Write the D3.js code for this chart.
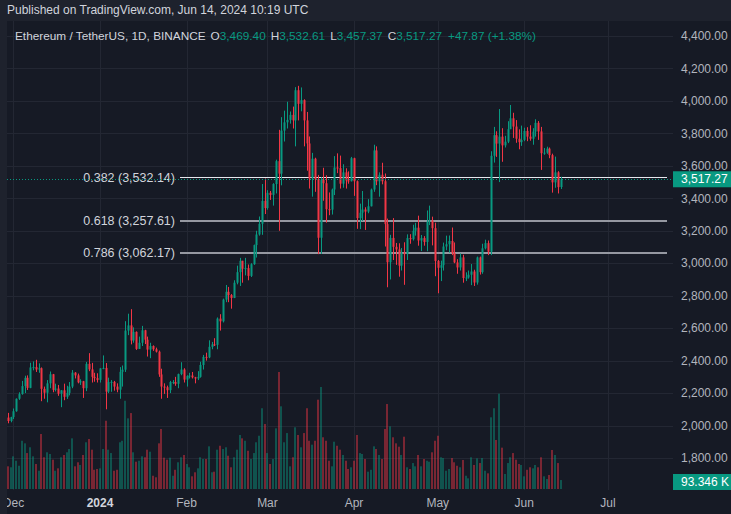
<!DOCTYPE html>
<html><head><meta charset="utf-8">
<script src="https://cdn.jsdelivr.net/npm/d3@7"></script>
<style>
html,body{margin:0;padding:0;background:#1e222d;}
svg{display:block;font-family:"Liberation Sans",Arial,sans-serif;}
</style></head>
<body><svg id="c" width="731" height="514"></svg>
<script>
// ---- data: ETH/USDT 1D, Binance, first candle 2023-11-29 ----
const startDate = "2023-11-29";
const opens = [2049,2028,2052,2088,2165,2194,2243,2294,2232,2358,2360,2345,2353,2226,2202,2260,2316,2220,2228,2196,2217,2177,2201,2240,2326,2309,2266,2273,2230,2380,2346,2300,2292,2281,2352,2355,2209,2268,2269,2240,2221,2331,2344,2585,2617,2524,2577,2472,2510,2587,2529,2468,2490,2470,2455,2315,2240,2236,2218,2268,2268,2257,2317,2345,2283,2305,2308,2297,2290,2300,2373,2423,2420,2485,2500,2497,2659,2642,2776,2824,2804,2786,2880,2945,3015,2966,2970,2922,2994,3112,3177,3243,3384,3340,3434,3421,3488,3629,3552,3817,3868,3883,3914,3880,4066,3982,4005,3880,3738,3522,3644,3518,3157,3515,3493,3333,3330,3454,3590,3586,3490,3560,3510,3505,3647,3505,3278,3311,3331,3318,3351,3454,3695,3505,3545,3505,3241,3006,3156,3101,3085,2985,3065,3056,3155,3148,3200,3219,3140,3155,3131,3256,3263,3216,3014,2972,2988,3103,3117,3137,3063,3005,2974,3036,2909,2912,2929,2949,2881,3036,2945,3092,3124,3071,3662,3789,3737,3780,3726,3749,3826,3893,3842,3767,3746,3760,3815,3780,3767,3811,3865,3812,3678,3681,3706,3666,3498,3560,3469.40];
const highs = [2078,2054,2105,2167,2205,2275,2307,2309,2387,2395,2405,2383,2358,2240,2280,2333,2318,2258,2250,2218,2258,2245,2268,2342,2329,2320,2285,2275,2392,2446,2386,2325,2322,2353,2432,2385,2295,2280,2275,2260,2360,2370,2643,2689,2717,2605,2580,2548,2614,2590,2548,2510,2494,2480,2462,2350,2260,2246,2275,2280,2300,2320,2390,2353,2310,2325,2330,2300,2335,2393,2435,2449,2525,2515,2538,2666,2686,2782,2866,2854,2810,2895,2985,3033,3015,3033,2992,3000,3115,3200,3288,3488,3523,3450,3445,3493,3638,3822,3900,3940,3995,3935,3965,4085,4093,4083,4010,3932,3781,3680,3650,3544,3530,3588,3542,3436,3460,3660,3677,3663,3610,3585,3566,3655,3650,3510,3367,3445,3345,3395,3460,3730,3720,3560,3619,3553,3275,3175,3278,3125,3123,3094,3129,3178,3179,3237,3249,3293,3174,3167,3325,3355,3287,3250,3020,3016,3127,3170,3171,3220,3128,3025,3060,3052,2944,2955,2995,2960,3041,3041,3120,3145,3140,3690,3840,3813,3950,3832,3785,3875,3975,3927,3882,3825,3848,3835,3838,3850,3832,3887,3876,3840,3710,3718,3713,3675,3657,3567,3532.61];
const lows = [2014,2020,2040,2085,2158,2190,2200,2219,2230,2340,2330,2325,2150,2165,2143,2230,2205,2210,2183,2113,2156,2164,2186,2230,2290,2260,2250,2170,2212,2335,2265,2270,2265,2265,2347,2100,2200,2208,2215,2205,2165,2240,2330,2557,2500,2510,2466,2472,2490,2502,2425,2415,2460,2450,2300,2165,2195,2170,2200,2255,2245,2230,2310,2265,2240,2290,2290,2260,2280,2295,2345,2400,2415,2470,2490,2470,2585,2635,2760,2760,2720,2785,2870,2860,2880,2925,2895,2915,2990,3035,3170,3175,3303,3330,3390,3355,3430,3200,3480,3750,3830,3860,3830,3720,3880,3936,3720,3570,3460,3410,3440,3056,3057,3385,3250,3296,3300,3420,3555,3460,3465,3460,3490,3504,3415,3212,3210,3260,3205,3308,3350,3440,3481,3410,3486,3103,2852,2900,3020,2990,2917,2955,2867,3020,3120,3140,3170,3108,3075,3108,3074,3235,3110,2920,2815,2890,2955,3080,3065,3050,3000,2935,2955,2880,2890,2905,2865,2860,2868,2930,2935,3085,3050,3050,3620,3655,3500,3625,3713,3740,3826,3772,3742,3702,3723,3752,3752,3755,3730,3780,3760,3575,3668,3674,3647,3435,3465,3430,3457.37];
const closes = [2028,2052,2088,2165,2194,2243,2294,2232,2358,2360,2345,2353,2226,2202,2260,2316,2220,2228,2196,2217,2177,2201,2240,2326,2309,2266,2273,2230,2380,2346,2300,2292,2281,2352,2355,2209,2268,2269,2240,2221,2331,2344,2585,2617,2524,2577,2472,2510,2587,2529,2468,2490,2470,2455,2315,2240,2236,2218,2268,2268.5,2257,2317,2345,2283,2305,2308,2297,2290,2300,2373,2423,2420,2485,2500,2497,2659,2642,2776,2824,2804,2786,2880,2945,3015,2966,2970,2922,2994,3112,3177,3243,3384,3340,3434,3421,3488,3629,3552,3817,3868,3883,3914,3880,4066,3982,4005,3880,3738,3522,3644,3518,3157,3515,3493,3333,3330,3454,3590,3586,3490,3560,3510,3505,3647,3505,3278,3311,3331,3318,3351,3454,3695,3505,3545,3505,3241,3006,3156,3101,3085,2985,3065,3056,3155,3148,3200,3219,3140,3155,3131,3256,3263,3216,3014,2972,2988,3103,3117,3137,3063,3005,2974,3036,2909,2912,2929,2949,2881,3036,2945,3092,3124,3071,3662,3789,3737,3780,3726,3749,3826,3893,3842,3767,3746,3760,3815,3780,3767,3811,3865,3812,3678,3681,3706,3666,3498,3560,3469,3517.27];
// volume in thousand ETH
const volumes = [236,226,340,294,242,502,475,374,434,340,260,190,572,330,382,364,305,190,215,330,354,382,416,527,236,278,250,354,486,520,409,200,208,215,416,710,409,374,190,200,486,502,918,735,790,382,284,294,340,330,409,388,138,122,475,624,326,305,326,138,200,278,330,354,260,226,132,174,215,330,312,312,444,174,180,409,450,416,434,346,226,330,409,562,527,502,398,312,374,486,554,840,676,374,260,312,631,1217,860,486,582,236,330,642,562,434,582,840,502,461,502,929,1061,538,502,294,236,492,450,409,354,294,208,226,294,562,374,364,312,180,200,444,416,354,312,624,884,652,538,475,440,354,544,226,208,270,236,354,236,312,294,284,382,502,554,330,322,190,208,322,278,242,226,302,138,111,330,250,319,270,322,190,163,746,840,510,991,430,156,270,330,374,305,260,250,132,200,226,215,250,226,330,132,104,146,406,354,270,93.346];
const priceTicks = [1800,2000,2200,2400,2600,2800,3000,3200,3400,3600,3800,4000,4200,4400];
const monthTicks = ["2023-12-01","2024-01-01","2024-02-01","2024-03-01","2024-04-01","2024-05-01","2024-06-01","2024-07-01"];
const monthLabels = ["Dec","2024","Feb","Mar","Apr","May","Jun","Jul"];
const fibLevels = ["0.382","0.618","0.786"];
const fibPrices = [3532.14,3257.61,3062.17];
const legendValues = {O:"3,469.40",H:"3,532.61",L:"3,457.37",C:"3,517.27",chg:"+47.87 (+1.38%)"};
const lastVolumeLabel = "93.346 K";

// ---- layout ----
const UP="#089981", DN="#f23645";
const paneL=7, paneT=21, paneR=673, paneB=490;
const svg=d3.select("#c");
const day=86400000;
const t0=Date.parse(startDate+"T00:00:00Z");
const data=opens.map((o,i)=>({d:new Date(t0+i*day),o,h:highs[i],l:lows[i],c:closes[i],v:volumes[i]}));

const x=d3.scaleUtc().domain([new Date("2024-01-01T00:00:00Z"),new Date("2024-07-01T00:00:00Z")]).range([100,608]);
const y=d3.scaleLinear().domain([1800,4400]).range([458,36]);
const vy=d3.scaleLinear().domain([0,d3.max(volumes)]).range([489,372]);

svg.append("rect").attr("width",731).attr("height",514).attr("fill","#1e222d");
svg.append("rect").attr("x",paneL).attr("y",paneT).attr("width",731-paneL).attr("height",514-paneT).attr("fill","#161a25");
svg.append("defs").append("clipPath").attr("id","pane").append("rect").attr("x",paneL).attr("y",paneT).attr("width",paneR-paneL).attr("height",paneB-paneT);
svg.append("defs").append("clipPath").attr("id","xax").append("rect").attr("x",paneL).attr("y",paneB).attr("width",paneR-paneL).attr("height",24);

// grid
const grid=svg.append("g").attr("clip-path","url(#pane)");
grid.selectAll("line.h").data(priceTicks).join("line").attr("x1",paneL).attr("x2",paneR)
  .attr("y1",d=>Math.round(y(d))+0.5).attr("y2",d=>Math.round(y(d))+0.5).attr("stroke","#232733").attr("stroke-width",1);
grid.selectAll("line.v").data(monthTicks).join("line")
  .attr("x1",d=>Math.round(x(new Date(d+"T00:00:00Z")))+0.5).attr("x2",d=>Math.round(x(new Date(d+"T00:00:00Z")))+0.5)
  .attr("y1",paneT).attr("y2",paneB).attr("stroke","#232733");

// volume
const vol=svg.append("g").attr("clip-path","url(#pane)");
vol.selectAll("rect").data(data).join("rect")
  .attr("x",d=>Math.round(x(d.d))-1).attr("width",2)
  .attr("y",d=>vy(d.v)).attr("height",d=>vy(0)-vy(d.v))
  .attr("fill",d=>d.c>=d.o?UP:DN).attr("fill-opacity",0.45);

// fib levels
const fib=svg.append("g");
fibPrices.forEach((p,i)=>{
  const yy=Math.round(y(p))+ (i===0?0.5:0);
  fib.append("line").attr("x1",180).attr("x2",667).attr("y1",yy).attr("y2",yy)
    .attr("stroke",i===0?"#e6e8ee":"#9598a1").attr("stroke-width",i===0?1:2);
  fib.append("text").attr("x",175).attr("y",yy).attr("dy","0.35em").attr("text-anchor","end")
    .attr("font-size",12.5).attr("fill","#d1d4dc").text(`${fibLevels[i]} (${d3.format(",.2f")(p)})`);
});

// candles
const cg=svg.append("g").attr("clip-path","url(#pane)");
const cs=cg.selectAll("g").data(data).join("g");
cs.append("line").attr("x1",d=>Math.round(x(d.d))+0.5).attr("x2",d=>Math.round(x(d.d))+0.5)
  .attr("y1",d=>y(d.h)).attr("y2",d=>y(d.l)).attr("stroke",d=>d.c>=d.o?UP:DN).attr("stroke-width",1);
cs.append("rect").attr("x",d=>Math.round(x(d.d))-0.5).attr("width",2)
  .attr("y",d=>y(Math.max(d.o,d.c))).attr("height",d=>Math.max(1,Math.abs(y(d.o)-y(d.c))))
  .attr("fill",d=>d.c>=d.o?UP:DN);

// last price line
const last=data[data.length-1];
svg.append("line").attr("x1",paneL).attr("x2",paneR).attr("y1",Math.round(y(last.c))+0.5).attr("y2",Math.round(y(last.c))+0.5)
  .attr("stroke",UP).attr("stroke-dasharray","1,2");

// y axis labels
const ya=svg.append("g");
ya.selectAll("text").data(priceTicks).join("text").attr("x",681).attr("y",d=>y(d)).attr("dy","0.35em")
  .attr("font-size",12).attr("fill","#b2b5be").text(d=>d3.format(",.2f")(d));
ya.append("rect").attr("x",673).attr("y",y(last.c)-8).attr("width",58).attr("height",16).attr("fill",UP);
ya.append("text").attr("x",681).attr("y",y(last.c)).attr("dy","0.35em").attr("font-size",12).attr("fill","#ffffff").text(d3.format(",.2f")(last.c));
ya.append("rect").attr("x",673).attr("y",474).attr("width",58).attr("height",16).attr("fill",UP);
ya.append("text").attr("x",681).attr("y",482).attr("dy","0.35em").attr("font-size",12).attr("fill","#ffffff").text(lastVolumeLabel);

// x axis labels
const xa=svg.append("g").attr("clip-path","url(#xax)");
xa.selectAll("text").data(monthTicks).join("text")
  .attr("x",d=>x(new Date(d+"T00:00:00Z"))).attr("y",503).attr("dy","0.35em").attr("text-anchor","middle")
  .attr("font-size",12).attr("font-weight",(d,i)=>monthLabels[i]==="2024"?"bold":"normal")
  .attr("fill",(d,i)=>monthLabels[i]==="2024"?"#d1d4dc":"#b2b5be").text((d,i)=>monthLabels[i]);

// header
svg.append("text").attr("x",7).attr("y",10).attr("dy","0.35em").attr("font-size",12).attr("fill","#d1d4dc")
  .text("Published on TradingView.com, Jun 14, 2024 10:19 UTC");
const lg=svg.append("text").attr("x",15).attr("y",36).attr("dy","0.35em").attr("font-size",11.8).attr("fill","#d1d4dc");
lg.append("tspan").text("Ethereum / TetherUS, 1D, BINANCE");
["O","H","L","C"].forEach((k,i)=>{
  lg.append("tspan").attr("dx",5).text(k);
  lg.append("tspan").attr("fill",UP).text(legendValues[k]);
});
lg.append("tspan").attr("dx",6).attr("fill",UP).text(legendValues.chg);
</script></body></html>
